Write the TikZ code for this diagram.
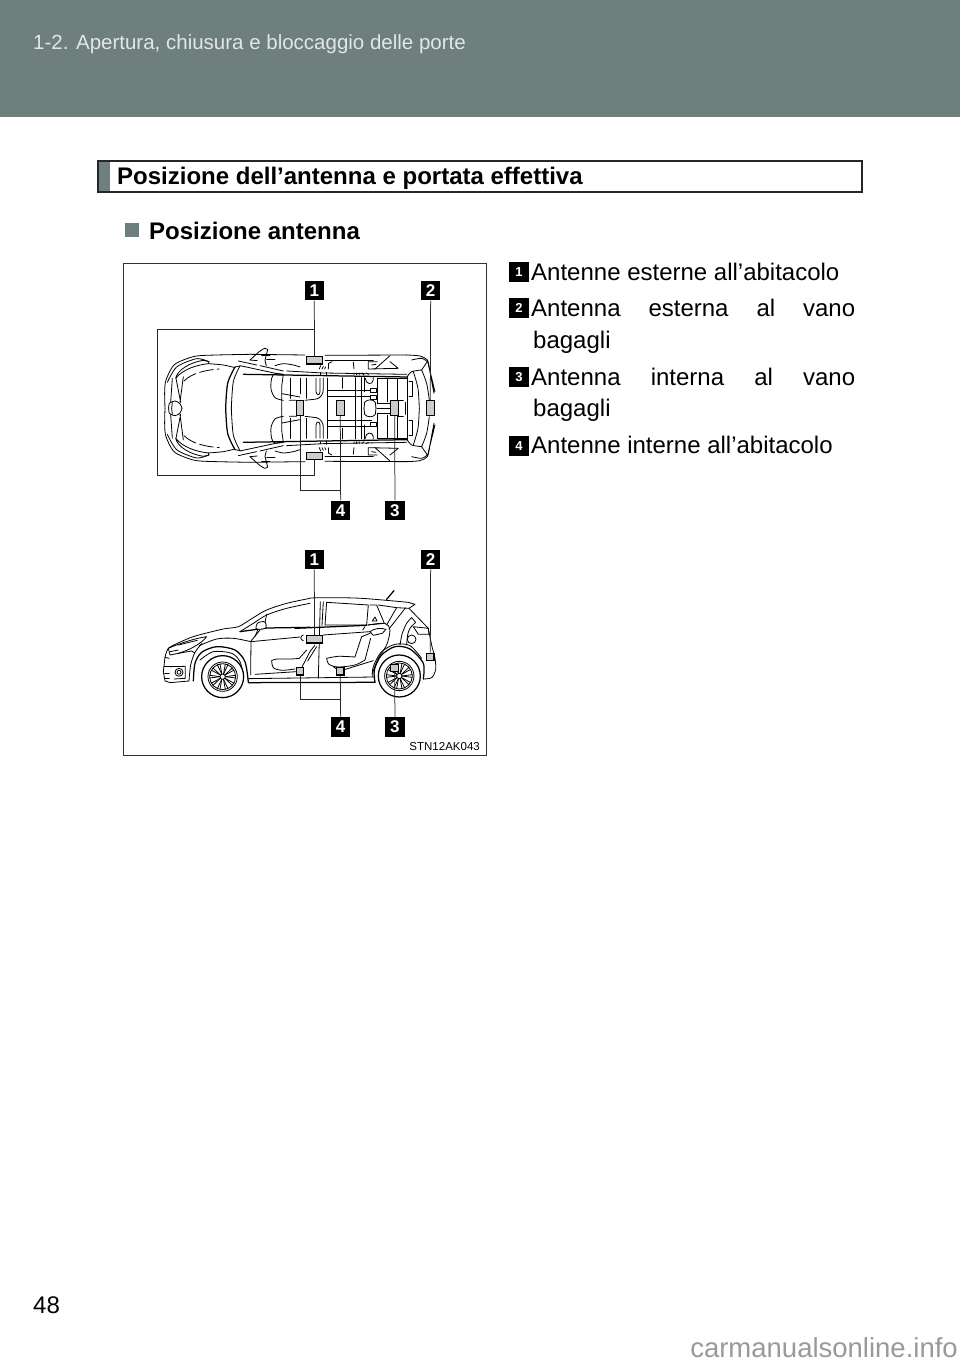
\documentclass[tikz,border=0pt]{standalone}
\usepackage{fontspec}
\setmainfont{Liberation Sans}
\definecolor{band}{HTML}{6F7F7E}
\definecolor{bandtxt}{HTML}{E2E6E6}
\definecolor{antfill}{HTML}{C9CDCD}
\definecolor{mark}{HTML}{999999}
\newcommand{\fsz}[1]{\fontsize{#1}{#1}\selectfont}
\tikzset{
  txt/.style={inner sep=0pt,anchor=base west,font=\fsz{24}},
  head/.style={inner sep=0pt,anchor=base west,font=\fsz{24}\bfseries},
  lab/.style={fill=black,text=white,inner sep=0pt,minimum size=19.6pt,font=\fsz{17}\bfseries},
  lit/.style={fill=black,text=white,inner sep=0pt,minimum size=20pt,font=\fsz{13}\bfseries},
  antw/.style={draw=black,line width=1.1pt,fill=antfill,inner sep=0pt,minimum width=15.6pt,minimum height=7.4pt},
  antt/.style={draw=black,line width=1.1pt,fill=antfill,inner sep=0pt,minimum width=7.6pt,minimum height=15pt},
  ants/.style={draw=black,line width=1.1pt,fill=antfill,inner sep=0pt,minimum width=7.4pt,minimum height=7.4pt},
  wire/.style={draw=black!85,line width=0.75pt},
  car/.style={draw=black,line width=0.8pt,line join=round,line cap=round},
  hvy/.style={line width=1.25pt}
}
\begin{document}
\begin{tikzpicture}[x=1pt,y=-1pt]
\useasboundingbox (0,0) rectangle (960,1362);
\fill[white] (0,0) rectangle (960,1362);
% header band
\fill[band] (0,0) rectangle (960,117);
\node[inner sep=0pt,anchor=base west,font=\fsz{20.5},text=bandtxt] (runhead) at (33,50) {1-2. Apertura, chiusura e bloccaggio delle porte};
% section bar
\draw[draw=black!85,line width=1.6pt,fill=white] (98,161) rectangle (862,192);
\fill[band] (99,162) rectangle (110,191);
\node[head] (title) at (117,184) {Posizione dell’antenna e portata effettiva};
% sub heading
\fill[band] (125,223) rectangle (139,237);
\node[head] (sub) at (149,239) {Posizione antenna};
% frame
\draw[draw=black!80,line width=0.9pt] (123.5,263.5) rectangle (486,755);
% ===== TOP VIEW =====
\begin{scope}[shift={(120,260)},x=0.3333pt,y=-0.3333pt]
 \foreach \s in {1,-1}{
 \begin{scope}[shift={(0,445)},yscale=\s,every path/.style={car}]
  % --- front half, crop coordinates
  \begin{scope}[shift={(120,-190)}]
   \draw[smooth] plot coordinates {(15,190) (14,140) (18,105) (40,62) (70,45) (110,33) (170,30) (270,28)};
   \draw[smooth] plot coordinates {(22,112) (50,66) (105,42) (130,44) (147,50)};
   \draw (47,100) .. controls (52,75) and (90,52) .. (130,46) -- (147,50) -- (145,56) .. controls (110,60) and (70,72) .. (47,100);
   \draw (37,100) -- (32,172) (48,100) -- (62,172) (70,95) -- (60,172);
   \draw[smooth] plot coordinates {(26,190) (28,175) (45,168) (60,176) (66,190)};
   \draw (35,190) -- (37,172);
   \draw[smooth] plot coordinates {(145,56) (190,60) (225,68)};
   \draw[dashed,dash pattern=on 14pt off 4pt] (72,108) .. controls (95,85) and (135,75) .. (178,72);
   \draw[smooth,hvy] plot coordinates {(225,66) (203,115) (197,190)};
   \draw[smooth] plot coordinates {(240,63) (220,110) (214,190)};
   \draw (225,66) -- (240,63);
   \draw (240,62) -- (370,90);
   \draw (235,48) -- (290,60) (300,62) -- (370,78);
   \draw[smooth] plot coordinates {(270,45) (298,20) (314,10) (323,14)};
   \draw (323,14) -- (315,46) -- (319,62);
   \draw (270,45) -- (292,47);
   \draw (305,30) -- (330,30) (320,42) -- (345,42);
   % front seat
   \draw[smooth] plot coordinates {(370,88) (345,86) (335,100) (333,132) (345,158) (370,166)};
   \draw (370,88) -- (365,125) -- (365,190);
   \draw[smooth] plot coordinates {(345,62) (370,56) (400,60) (420,66)};
   \draw (392,100) -- (392,146) (420,100) -- (420,146);
   \draw (366,146) -- (420,156);
  \end{scope}
  % --- rear half, crop coordinates
  \begin{scope}[shift={(510,-190)}]
   \draw (270,28) ++(-390,0) -- (45,30);
   \draw (105,31) -- (350,30);
   \draw[smooth] plot coordinates {(350,30) (390,33) (412,45) (418,70)};
   \draw (418,70) -- (432,145) (412,45) -- (435,140);
   \draw (105,45) -- (250,45);
   \draw[hvy] (-140,88) -- (352,96);
   \draw (-10,78) -- (100,84) -- (350,88);
   \draw[smooth] plot coordinates {(352,95) (365,80) (395,75)};
   \draw[smooth] plot coordinates {(395,75) (410,115) (418,165)};
   \draw[smooth] plot coordinates {(370,80) (384,130) (388,190)};
   \draw[hvy] (352,95) -- (352,190);
   \draw[smooth] plot coordinates {(365,45) (395,40) (412,50)};
   \draw (395,75) -- (412,50);
   \draw (357,110) -- (368,110) -- (368,155) -- (357,155);
   \draw (345,172) -- (345,190);
   % quarter
   \draw (235,50) -- (262,50) (300,32) -- (254,73) (300,50) -- (325,70) -- (235,72) -- (235,50);
   \draw (245,60) -- (258,58);
   % dashes by door
   \draw (88,72) -- (92,62) (96,72) -- (100,64) (104,72) -- (107,66);
   \draw (115,72) -- (116,55) -- (126,50);
   \draw (190,52) -- (192,72);
   \draw (192,84) -- (192,90) (200,84) -- (200,90) (208,84) -- (208,90) (216,84) -- (222,90) (228,84) -- (236,88);
   \draw (92,83) -- (92,90) (110,82) -- (110,92);
   % floor
   \draw[hvy] (113,100) -- (113,190);
   \draw (157,98) -- (157,130) (197,98) -- (197,190) (213,98) -- (213,190) (222,98) -- (222,140);
   \draw (115,135) -- (195,135) (115,155) -- (195,155);
   \draw (200,135) -- (245,135) (200,155) -- (245,155);
   \draw (262,100) -- (262,175) (292,100) -- (292,170) (322,100) -- (322,170);
   \draw (262,100) -- (350,100);
   \draw (222,190) -- (224,172) .. controls (232,162) and (250,162) .. (256,172) -- (258,190);
   \draw (262,175) -- (300,175) (262,190) -- (300,190);
   \draw (325,165) -- (340,165);
   \draw (226,100) .. controls (226,118) and (248,122) .. (250,105) -- (250,98);
   % front seat back part
   \draw (0,100) -- (0,160) (50,100) -- (50,160);
   \draw (-2,166) -- (20,166) (45,166) -- (80,162) .. controls (92,158) and (100,148) .. (100,132) -- (100,100);
   \draw (78,100) -- (78,140) .. controls (80,152) and (90,152) .. (90,140) -- (90,100);
  \end{scope}
 \end{scope}}
 % asymmetric brackets by the rear seat
 \begin{scope}[every path/.style={car}]
  \draw[fill=white] (752,384) rectangle (768,398) (752,405) rectangle (768,418) (752,487) rectangle (768,500);
 \end{scope}
 % antennas
 \node[antw] (a1) at (583.5,301) {};
 \node[antw] (a1b) at (583.5,588) {};
 \node[antt] (a4a) at (540,444) {};
 \node[antt] (a4b) at (661,444) {};
 \node[antt] (a3) at (824,444) {};
 \node[antt] (a2) at (931,444) {};
 % labels
 \node[lab] (t1) at (583,92) {1};
 \node[lab] (t2) at (932,92) {2};
 \node[lab] (t4) at (662,751) {4};
 \node[lab] (t3) at (825,751) {3};
 % connectors
 \coordinate (c1) at (583.5,207);
 \coordinate (c2) at (113,207);
 \coordinate (c3) at (113,647);
 \coordinate (c4) at (583.5,647);
 \coordinate (c5) at (661,690);
 \coordinate (c6) at (540,690);
 \draw[wire] (t1.south) -- (a1.north);
 \draw[wire] (c1) -- (c2) -- (c3) -- (c4) -- (a1b.south);
 \draw[wire] (t2.south) -- (a2.north);
 \draw[wire] (t3.north) -- (a3.south);
 \draw[wire] (t4.north) -- (a4b.south);
 \draw[wire] (c5) -- (c6) -- (a4a.south);
\end{scope}
% ===== SIDE VIEW =====
\begin{scope}[shift={(120,530)},x=0.3333pt,y=-0.3333pt]
 \begin{scope}[every path/.style={car}]
  % --- sill, full length
  \draw[hvy] (385,458) -- (765,457);
  \draw (385,446) -- (765,441);
  \draw (405,433) -- (530,425) (670,420) -- (760,392);
  % --- front part
  \begin{scope}[shift={(120,195)}]
   \draw[smooth] plot coordinates {(15,187) (20,170) (32,155) (100,125) (190,102) (235,95) (280,68) (320,45) (380,25) (450,10)};
   \draw (15,187) -- (10,230) -- (15,258) -- (30,263) -- (87,258);
   \draw (15,187) -- (28,190);
   \draw (25,160) -- (30,180) -- (55,175) .. controls (90,165) and (125,145) .. (140,125) .. controls (105,130) and (60,145) .. (25,160);
   \draw (55,150) -- (112,136);
   \draw (30,170) -- (55,165);
   \draw[smooth] plot coordinates {(126,145) (105,172) (92,210) (87,258)};
   \draw (55,175) -- (95,168) -- (104,174);
   \draw[smooth,hvy] plot coordinates {(100,258) (105,205) (125,172) (170,155) (225,165) (255,200) (265,262)};
   \draw[smooth] plot coordinates {(120,195) (160,170) (215,175) (240,200) (250,245)};
   \draw[hvy] (240,110) -- (320,99);
   \draw[hvy] (320,99) -- (450,97);
   \draw[smooth] plot coordinates {(240,110) (280,85) (320,60) (380,40) (450,25)};
   \draw (320,58) -- (312,98);
   % door
   \draw (300,105) -- (273,138) -- (272,240);
   \draw (273,140) -- (420,126);
   \draw[smooth] plot coordinates {(118,152) (170,132) (220,130) (273,140)};
   \draw (430,120) .. controls (420,122) and (420,135) .. (430,137);
   % mirror
   \draw[fill=white,smooth cycle] plot coordinates {(288,100) (292,85) (305,80) (316,82) (318,98) (300,103)};
   \draw (294,103) -- (285,125);
   % fog lamp
   \draw (57,232) circle[radius=12] (57,232) circle[radius=6];
   \draw (30,215) -- (76,214) -- (76,250) -- (42,252);
   \draw (12,215) -- (30,215) (14,235) -- (28,235) (15,250) -- (28,250);
   % front seat
   \draw[smooth] plot coordinates {(335,197) (350,192) (395,192) (418,190)};
   \draw[smooth] plot coordinates {(335,197) (340,218) (365,226) (405,222)};
   \draw (418,190) -- (440,165);
  \end{scope}
  % --- rear part
  \begin{scope}[shift={(525,195)}]
   \draw[smooth] plot coordinates {(45,9) (100,8) (200,10) (340,22)};
   \draw (340,22) -- (360,28) -- (342,40) -- (400,100);
   \draw (95,22) -- (220,30) -- (215,90) -- (90,90) -- cycle;
   \draw (225,30) -- (245,30) -- (268,85) -- (220,90);
   \draw (250,30) -- (305,38) -- (275,90);
   \draw (305,38) -- (342,40) (332,38) -- (282,102);
   \draw (76,20) -- (70,250);
   \draw (85,20) -- (81,92);
   \draw[hvy] (0,100) -- (215,91);
   \draw[smooth] plot coordinates {(218,90) (270,85) (285,105) (275,150) (250,190) (232,235)};
   \draw (85,120) -- (225,110);
   % handle
   \draw (225,110) .. controls (235,100) and (260,98) .. (273,103) -- (262,115) -- (235,121) -- cycle;
   \draw (210,95) -- (203,105);
   \draw (232,78) -- (240,66) -- (246,78) -- cycle;
   % fuel, lamp, hip
   \draw (350,133) circle[radius=13];
   \draw (355,95) -- (400,100) -- (402,118) -- (370,118) -- cycle;
   \draw[smooth] plot coordinates {(315,150) (322,115) (335,85) (350,68)};
   \draw[smooth] plot coordinates {(335,150) (338,120) (345,100) (362,82)};
   \draw (350,68) -- (362,82);
   % tail
   \draw[smooth] plot coordinates {(400,100) (410,150) (420,190) (422,225) (410,248) (385,252)};
   \draw[smooth,hvy] plot coordinates {(385,252) (385,205) (345,162) (300,155) (258,182) (238,225) (240,262)};
   \draw[smooth] plot coordinates {(232,245) (235,215) (258,172) (300,148) (345,152) (380,190)};
   % seats
   \draw[smooth] plot coordinates {(95,190) (130,184) (180,186)};
   \draw (180,186) -- (200,125) -- (225,115);
   \draw[smooth] plot coordinates {(95,190) (102,208) (130,216) (180,210) (210,195)};
   \draw (210,195) -- (227,130);
   \draw (20,218) -- (45,170) -- (60,150) (38,198) -- (65,155);
   \draw (115,215) -- (125,222);
  \end{scope}
  % wheels
  \foreach \cx/\cy in {308/440,838/438}{
   \draw[hvy,fill=white] (\cx,\cy) circle[radius=63];
   \draw (\cx,\cy) circle[radius=44];
   \draw (\cx,\cy) circle[radius=39];
   \draw (\cx,\cy) circle[radius=8];
   \foreach \a in {0,36,...,324}{
     \draw ([shift={(\a:8)}]\cx,\cy) -- ([shift={(\a+6:39)}]\cx,\cy);
     \draw ([shift={(\a:8)}]\cx,\cy) -- ([shift={(\a-6:39)}]\cx,\cy);
   }
  }
 \end{scope}
 % antennas
 \node[antw] (b1) at (583.5,328) {};
 \node[ants] (b2) at (931,381) {};
 \node[ants] (b3) at (824,414) {};
 \node[ants] (b4a) at (540,424) {};
 \node[ants] (b4b) at (661,424) {};
 % labels
 \node[lab] (s1) at (583,88) {1};
 \node[lab] (s2) at (932,88) {2};
 \node[lab] (s4) at (662,591) {4};
 \node[lab] (s3) at (825,591) {3};
 \coordinate (d1) at (661,507);
 \coordinate (d2) at (540,507);
 \coordinate (f1) at (800,208);
 \coordinate (f2) at (822,182);
 \draw[car,hvy] (f1) -- (f2);
 \draw[wire] (s1.south) -- (b1.north);
 \draw[wire] (s2.south) -- (b2.north);
 \draw[wire] (s3.north) -- (b3.south);
 \draw[wire] (s4.north) -- (b4b.south);
 \draw[wire] (d1) -- (d2) -- (b4a.south);
\end{scope}
\node[inner sep=0pt,anchor=base east,font=\fsz{11.5}] (code) at (480,750) {STN12AK043};
% ===== LIST =====
\node[lit] (i1) at (519,272) {1};
\node[lit] (i2) at (519,308) {2};
\node[lit] (i3) at (519,377) {3};
\node[lit] (i4) at (519,446) {4};
\node[txt] (x1) at (531,280) {Antenne esterne all’abitacolo};
\node[txt] (x2) at (531,316) {\makebox[324pt][s]{Antenna\hfill esterna\hfill al\hfill vano}};
\node[txt] (x2b) at (533,348) {bagagli};
\node[txt] (x3) at (531,385) {\makebox[324pt][s]{Antenna\hfill interna\hfill al\hfill vano}};
\node[txt] (x3b) at (533,416) {bagagli};
\node[txt] (x4) at (531,453) {Antenne interne all’abitacolo};
% footer
\node[inner sep=0pt,anchor=base west,font=\fsz{24}] (page) at (33,1313) {48};
\node[inner sep=0pt,anchor=base east,font=\fsz{27.5},text=mark] (wm) at (958,1357) {carmanualsonline.info};
\end{tikzpicture}
\end{document}
